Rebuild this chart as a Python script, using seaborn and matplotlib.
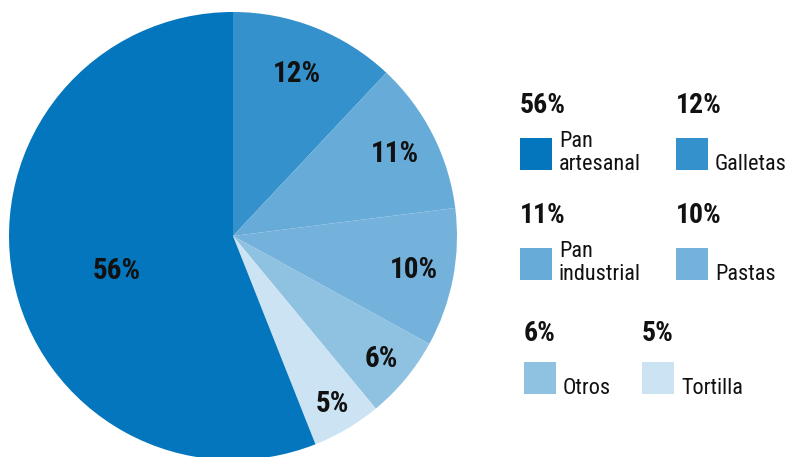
import matplotlib
matplotlib.use("Agg")
import matplotlib.pyplot as plt
from matplotlib.patches import Rectangle
import numpy as np
import seaborn as sns

# Share of consumption by product (clockwise from 12 o'clock)
categories = ["Galletas", "Pan industrial", "Pastas", "Otros", "Tortilla", "Pan artesanal"]
shares = [12, 11, 10, 6, 5, 56]
colors = ["#3591cc", "#67acd8", "#74b2dc", "#8fc1e1", "#cbe3f2", "#0476bd"]

# Legend order and its two-line labels
legend_order = ["Pan artesanal", "Galletas", "Pan industrial", "Pastas", "Otros", "Tortilla"]
legend_text = ["Pan\nartesanal", "Galletas", "Pan\nindustrial", "Pastas", "Otros", "Tortilla"]

sns.set_theme(style="white")
plt.rcParams["font.family"] = ["Roboto Condensed", "Liberation Sans", "DejaVu Sans"]

W, H = 786, 457
fig = plt.figure(figsize=(W / 100, H / 100), dpi=100)
ax = fig.add_axes([0, 0, 1, 1])

cx, cy, R = 233, H - 236, 224
wedges, _ = ax.pie(shares, colors=colors, startangle=90, counterclock=False,
                   center=(cx, cy), radius=R,
                   wedgeprops=dict(linewidth=0))

# Percentage labels inside the slices
label_frac = [0.78, 0.81, 0.82, 0.86, 0.87, 0.54]
label_shift = [0, 0, 0, 0, 0, 6]
for w, v, f, da in zip(wedges, shares, label_frac, label_shift):
    ang = np.deg2rad((w.theta1 + w.theta2) / 2 + da)
    ax.text(cx + f * R * np.cos(ang), cy + f * R * np.sin(ang), f"{v}%",
            ha="center", va="center", fontsize=21, fontweight="semibold",
            color="#111111")

# Custom legend: bold share above a square swatch and its label
col_x = [520, 676, 520, 676, 524, 642]
pct_base = [113, 113, 223, 223, 341, 341]
sw_top = [138, 138, 248, 248, 362, 362]
sw = 32
share_of = dict(zip(categories, shares))
color_of = dict(zip(categories, colors))
for name, txt, x, pb, st in zip(legend_order, legend_text, col_x, pct_base, sw_top):
    ax.text(x, H - pb, f"{share_of[name]}%", ha="left", va="baseline",
            fontsize=20, fontweight="bold", color="#111111")
    ax.add_patch(Rectangle((x, H - st - sw), sw, sw, color=color_of[name], lw=0))
    ax.text(x + sw + 7, H - st - sw, txt, ha="left", va="baseline",
            fontsize=16, color="#111111", linespacing=1.12)

ax.set_xlim(0, W)
ax.set_ylim(0, H)
ax.set_aspect("equal")
ax.axis("off")
fig.savefig("out.png", dpi=100, facecolor="white")
